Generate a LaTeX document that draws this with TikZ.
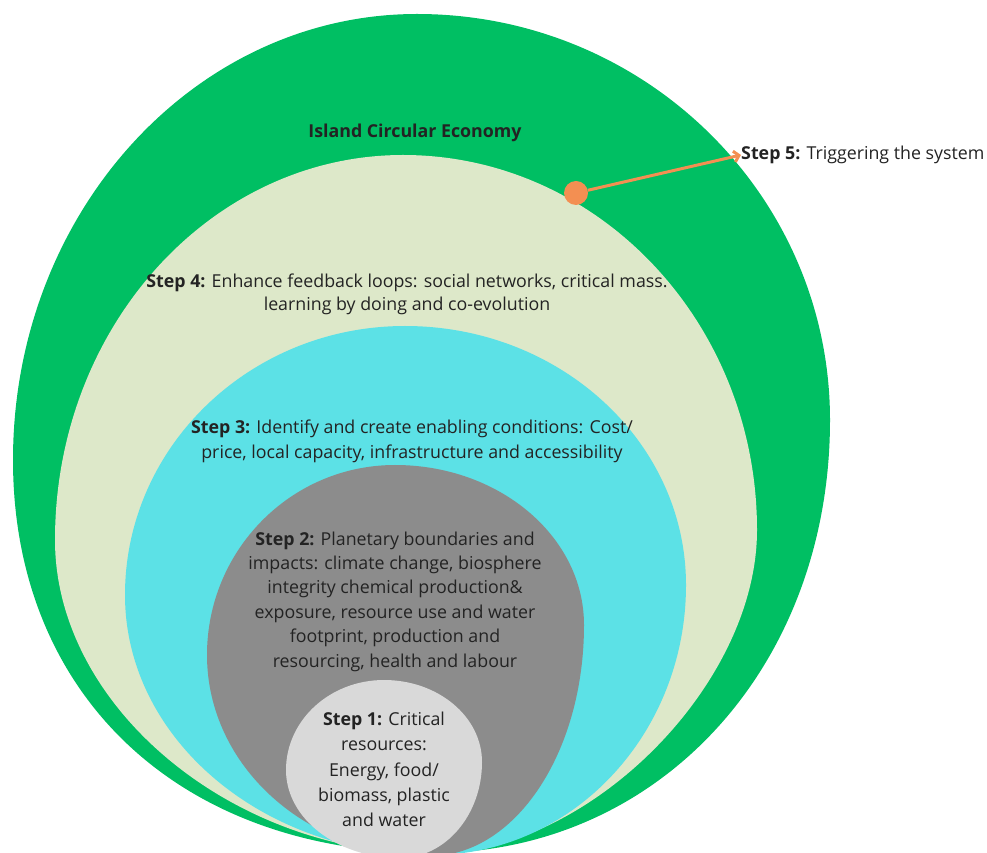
\documentclass[tikz,border=0pt]{standalone}
\usepackage{fontspec}
\setmainfont{Open Sans}
\usetikzlibrary{arrows.meta}
\definecolor{cgreen}{RGB}{0,191,99}
\definecolor{clight}{RGB}{221,232,201}
\definecolor{ccyan}{RGB}{92,225,230}
\definecolor{cgray}{RGB}{140,140,140}
\definecolor{clgray}{RGB}{217,217,217}
\definecolor{corange}{RGB}{243,143,82}
\definecolor{ctext}{RGB}{35,35,35}
% egg shape through top (T), left (L), bottom (B), right (R) points
% #1 colour, #2 #3 = T, #4 #5 = L, #6 #7 = B, #8 #9 = R
\newcommand\eggshape[9]{%
  \fill[#1] (#2,#3)
    .. controls ({#2-\kUL*(#2-#4)},#3) and (#4,{#5+\kUL*(#3-#5)}) .. (#4,#5)
    .. controls (#4,{#5-\kLL*(#5-#7)}) and ({#6-\kLL*(#6-#4)},#7) .. (#6,#7)
    .. controls ({#6+\kLR*(#8-#6)},#7) and (#8,{#9-\kLR*(#9-#7)}) .. (#8,#9)
    .. controls (#8,{#9+\kUR*(#3-#9)}) and ({#2+\kUR*(#8-#2)},#3) .. (#2,#3) -- cycle;}
\begin{document}
\begin{tikzpicture}[x=1pt,y=1pt,
  txt/.style={align=center, font=\fontsize{17.8}{24.4}\selectfont, text=ctext, inner sep=0pt}]
\useasboundingbox (0,0) rectangle (987,852);
\begin{scope}
\clip (0,0) rectangle (987,852);
\def\kUL{0.5523}\def\kUR{0.5523}
% outer green
\def\kLL{0.60}\def\kLR{0.57}
\eggshape{cgreen}{417}{838}{13}{392}{432}{-1}{830}{432}
% light green
\def\kLL{0.53}\def\kLR{0.48}
\eggshape{clight}{403}{697}{55}{312}{432}{-2}{757}{322}
% cyan
\def\kLL{0.5523}\def\kLR{0.5523}
\eggshape{ccyan}{405}{526}{125}{257}{432}{-3}{686}{267}
% gray
\eggshape{cgray}{395}{387}{207}{197}{430}{-4}{584}{227}
% light gray
\eggshape{clgray}{384}{172}{286}{82}{400}{-6}{482}{90}
\end{scope}

\node[txt, font=\fontsize{17.8}{24.4}\selectfont\bfseries] (ice) at (415,719) {Island Circular Economy};
\node[txt, font=\fontsize{17.8}{23}\selectfont] (s4) at (407,557.5) {\textbf{Step 4:} Enhance feedback loops: social networks, critical mass.\\learning by doing and co-evolution};
\node[txt, font=\fontsize{17.8}{25}\selectfont] (s3) at (412,410.5) {\textbf{Step 3:} Identify and create enabling conditions: Cost/\\price, local capacity, infrastructure and accessibility};
\node[txt] (s2) at (395,250.5) {\textbf{Step 2:} Planetary boundaries and\\impacts: climate change, biosphere\\integrity chemical production\&\\exposure, resource use and water\\footprint, production and\\resourcing, health and labour};
\node[txt, font=\fontsize{17.8}{25.2}\selectfont] (s1) at (384,82.5) {\textbf{Step 1:} Critical\\resources:\\Energy, food/\\biomass, plastic\\and water};
\node[txt, anchor=west] (s5) at (741,697) {\textbf{Step 5:} Triggering the system};
\node[circle, fill=corange, minimum size=24pt, inner sep=0pt] (dot) at (576,659) {};
\draw[corange, line width=3pt, -{Straight Barb[length=5pt,width=11pt]}] (dot) -- (s5.west);
\end{tikzpicture}
\end{document}
